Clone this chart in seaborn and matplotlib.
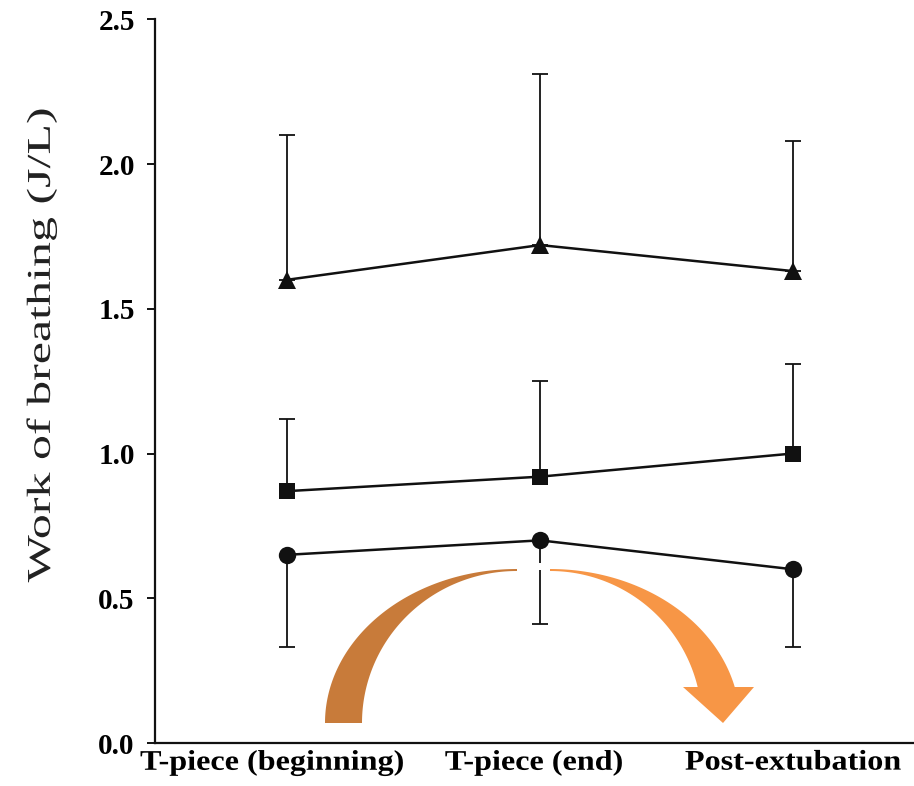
import numpy as np
import pandas as pd
import matplotlib
matplotlib.use("Agg")
import matplotlib.pyplot as plt
import seaborn as sns
from matplotlib.patches import Polygon, Rectangle
from matplotlib.patheffects import AbstractPathEffect
from matplotlib.transforms import Affine2D, ScaledTranslation

# ---------------- data ----------------
categories = ["T-piece (beginning)", "T-piece (end)", "Post-extubation"]
tri_mean = [1.60, 1.72, 1.63]
tri_sd = [0.50, 0.59, 0.45]          # drawn upward only
sq_mean = [0.87, 0.92, 1.00]
sq_sd = [0.25, 0.33, 0.31]           # drawn upward only
circ_mean = [0.65, 0.70, 0.60]
circ_sd = [0.32, 0.29, 0.27]         # drawn downward only
y_ticks = [0.0, 0.5, 1.0, 1.5, 2.0, 2.5]
y_label = "Work of breathing (J/L)"

pos = list(range(len(categories)))
df = pd.DataFrame({
    "pos": pos * 3,
    "wob": tri_mean + sq_mean + circ_mean,
    "group": ["tri"] * 3 + ["sq"] * 3 + ["circ"] * 3,
})

# ---------------- style ----------------
sns.set_style("ticks")
plt.rcParams["font.family"] = ["Liberation Serif", "DejaVu Serif"]


class Stretch(AbstractPathEffect):
    """Stretch rendered text path about its centre (display coords)."""
    def __init__(self, sx=1.0, sy=1.0):
        super().__init__()
        self.sx, self.sy = sx, sy

    def draw_path(self, renderer, gc, tpath, affine, rgbFace=None):
        bb = tpath.get_extents(affine)
        cx, cy = (bb.x0 + bb.x1) / 2, (bb.y0 + bb.y1) / 2
        t = affine + Affine2D().translate(-cx, -cy).scale(self.sx, self.sy).translate(cx, cy)
        renderer.draw_path(gc, tpath, t, rgbFace)


W, H = 914, 786
fig = plt.figure(figsize=(W / 100, H / 100), dpi=100)
ax = fig.add_axes([155 / W, 43 / H, 759 / W, 723.75 / H])

ink = "#111111"
specs = {"tri": ("^", 12.5), "sq": ("s", 12), "circ": ("o", 12.5)}
for g, (mk, ms) in specs.items():
    sns.lineplot(data=df[df["group"] == g], x="pos", y="wob", ax=ax,
                 color=ink, marker=mk, markersize=ms, markeredgewidth=0,
                 linewidth=1.8, legend=False, sort=False, zorder=3)

zeros = [0, 0, 0]
ekw = dict(fmt="none", ecolor=ink, elinewidth=1.3, capsize=5.5, capthick=1.3, zorder=2)
ax.errorbar(pos, tri_mean, yerr=[zeros, tri_sd], **ekw)
ax.errorbar(pos, sq_mean, yerr=[zeros, sq_sd], **ekw)
ax.errorbar(pos, circ_mean, yerr=[circ_sd, zeros], **ekw)

# ---------------- axes ----------------
ax.set_xlim(-0.522, 2.478)
ax.set_ylim(0, 2.5)
ax.set_yticks(y_ticks)
ax.set_yticklabels([f"{v:.1f}" for v in y_ticks], fontsize=21, fontweight="bold")
ax.set_xticks(pos)
ax.set_xticklabels(categories, fontsize=20.5, fontweight="bold")
ax.tick_params(axis="x", length=0, pad=5.5, colors="black")
ax.tick_params(axis="y", length=6, width=1.3, pad=8.5, colors="black", direction="out")
label_shift_px = [-15, -6, 0]
for lab, dx in zip(ax.get_xticklabels(), label_shift_px):
    lab.set_path_effects([Stretch(sx=1.13)])
    lab.set_transform(lab.get_transform() + ScaledTranslation(dx / 100, 0, fig.dpi_scale_trans))
ax.set_xlabel("")
ax.set_ylabel(y_label, fontsize=24, color="#222222", fontweight="normal")
ax.yaxis.label.set_path_effects([Stretch(sy=1.5)])
ax.yaxis.set_label_coords(-0.129, 0.55)
sns.despine(ax=ax)
for s in ("left", "bottom"):
    ax.spines[s].set_linewidth(1.6)
    ax.spines[s].set_color(ink)
ax.grid(False)

# ---------------- curved orange arrow (figure pixel coords) ----------------
def px(xs, ys):
    return np.column_stack([np.asarray(xs) / W, 1 - np.asarray(ys) / H])

t = np.linspace(0, np.pi / 2, 80)
left_outer = px(517 - 192 * np.cos(t), 723 - 154 * np.sin(t))
left_inner = px(517 - 155 * np.cos(t[::-1]), 723 - 152 * np.sin(t[::-1]))
left_poly = np.vstack([left_outer, left_inner])
fig.patches.append(Polygon(left_poly, closed=True, transform=fig.transFigure,
                           facecolor="#C87B3A", edgecolor="none", zorder=5))

t_out = np.linspace(np.pi / 2, np.arcsin(36 / 154), 80)
t_in = np.linspace(np.arcsin(36 / 152), np.pi / 2, 80)
right_outer = px(550 + 190 * np.cos(t_out), 723 - 154 * np.sin(t_out))
head = px([754, 723, 683], [687, 723, 687])
right_inner = px(550 + 152 * np.cos(t_in), 723 - 152 * np.sin(t_in))
right_poly = np.vstack([right_outer, head, right_inner])
fig.patches.append(Polygon(right_poly, closed=True, transform=fig.transFigure,
                           facecolor="#F79646", edgecolor="none", zorder=5))

# small white break in the middle error bar where the arrow passes
fig.patches.append(Rectangle((535 / W, 1 - 570 / H), 12 / W, 7 / H,
                             transform=fig.transFigure, facecolor="white",
                             edgecolor="none", zorder=5))

fig.savefig("out.png", dpi=100, facecolor="white")
